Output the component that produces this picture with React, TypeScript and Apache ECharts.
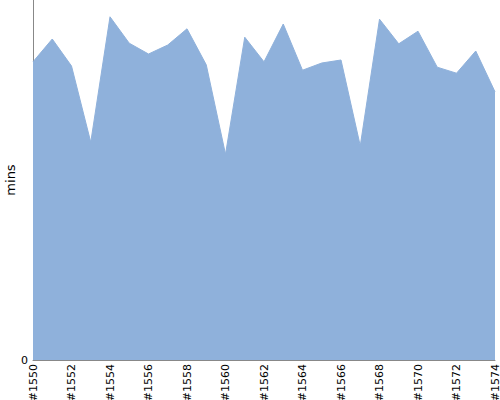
import React, { useEffect, useRef } from "react";
import * as echarts from "echarts";

const categories = [
  "#1550", "#1551", "#1552", "#1553", "#1554", "#1555", "#1556", "#1557", "#1558", "#1559",
  "#1560", "#1561", "#1562", "#1563", "#1564", "#1565", "#1566", "#1567", "#1568", "#1569",
  "#1570", "#1571", "#1572", "#1573", "#1574",
];
const minsValues = [
  49.7, 53.5, 49.0, 36.3, 57.2, 52.8, 51.0, 52.5, 55.2, 49.2,
  34.3, 53.8, 49.7, 56.0, 48.3, 49.5, 50.0, 35.7, 56.8, 52.7,
  54.8, 48.8, 47.8, 51.5, 44.7,
];
const yMin = 0;
const yMax = 60;

export default function App() {
  const ref = useRef<HTMLDivElement>(null);
  useEffect(() => {
    if (!ref.current) return;
    const chart = echarts.init(ref.current, null, { renderer: "svg" });
    chart.setOption({
      animation: false,
      grid: { left: 33, right: 5, top: 0, bottom: 40, containLabel: false, outerBoundsMode: "none" },
      xAxis: {
        type: "category",
        data: categories,
        boundaryGap: false,
        axisLine: { show: true, lineStyle: { color: "#888" } },
        axisTick: { show: false },
        axisLabel: {
          interval: 1,
          rotate: 90,
          color: "#000",
          fontFamily: "DejaVu Sans",
          fontSize: 11,
          margin: 4,
        },
        splitLine: { show: false },
      },
      yAxis: {
        type: "value",
        min: yMin,
        max: yMax,
        interval: 60,
        name: "mins",
        nameLocation: "middle",
        nameGap: 16,
        nameMoveOverlap: false,
        nameTextStyle: { color: "#000", fontFamily: "DejaVu Sans", fontSize: 13 },
        axisLine: { show: true, lineStyle: { color: "#888" } },
        axisTick: { show: false },
        axisLabel: {
          color: "#000",
          fontFamily: "DejaVu Sans",
          fontSize: 11,
          margin: 5,
          formatter: (v: number) => (v === 0 ? "0" : ""),
        },
        splitLine: { show: false },
      },
      series: [
        {
          type: "line",
          data: minsValues,
          symbol: "none",
          lineStyle: { width: 1, color: "#8fb1db" },
          areaStyle: { color: "#8fb1db", opacity: 1 },
        },
      ],
    });
    return () => chart.dispose();
  }, []);
  return <div ref={ref} style={{ width: 500, height: 400, position: "absolute", left: 0, top: 0 }} />;
}
